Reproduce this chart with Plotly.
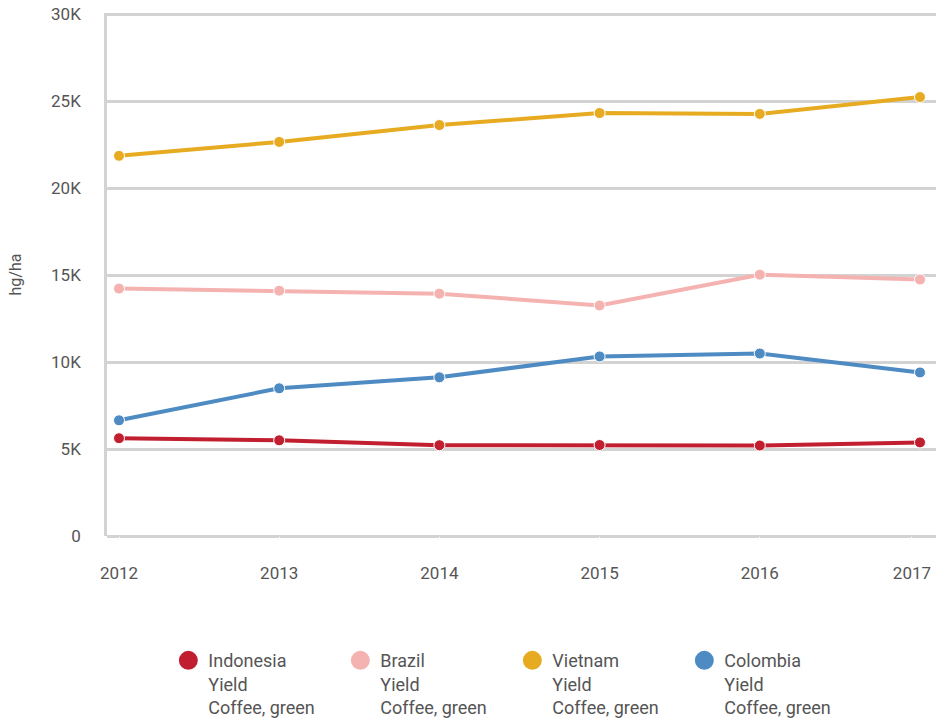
import plotly.graph_objects as go

years = [2012, 2013, 2014, 2015, 2016, 2017]
year_labels = ["2012", "2013", "2014", "2015", "2016", "2017"]
# tick label spots; the last one sits a little left so it stays inside the page
year_label_pos = [2012, 2013, 2014, 2015, 2016, 2016.95]

indonesia = [5620, 5500, 5220, 5230, 5200, 5380]
brazil = [14220, 14100, 13930, 13250, 15020, 14740]
vietnam = [21850, 22650, 23620, 24310, 24260, 25230]
colombia = [6650, 8490, 9120, 10320, 10490, 9400]

ytick_vals = [0, 5000, 10000, 15000, 20000, 25000, 30000]
ytick_text = ["0", "5K", "10K", "15K", "20K", "25K", "30K"]

series = [
    ("Indonesia", indonesia, "#c11f30"),
    ("Brazil", brazil, "#f4b3b0"),
    ("Vietnam", vietnam, "#e7ab22"),
    ("Colombia", colombia, "#4e8bc3"),
]

FONT = "Roboto, DejaVu Sans, sans-serif"
GRID = "#d3d3d3"
TEXT = "#555555"

fig = go.Figure()
for name, vals, color in series:
    fig.add_trace(go.Scatter(
        x=years, y=vals, mode="lines+markers", name=name,
        line=dict(color=color, width=4),
        marker=dict(size=11, color=color, line=dict(color="white", width=1)),
        showlegend=False,
    ))

# legend-only entries (circles, no line)
for name, vals, color in series:
    fig.add_trace(go.Scatter(
        x=[None], y=[None], mode="markers",
        name=f"{name}<br>Yield<br>Coffee, green",
        marker=dict(size=16, color=color, line=dict(color=color, width=3)),
    ))

fig.update_layout(
    width=936, height=718,
    paper_bgcolor="white", plot_bgcolor="white",
    font=dict(family=FONT, size=16, color=TEXT),
    margin=dict(l=107, r=0, t=13, b=182, autoexpand=False),
    xaxis=dict(
        range=[2011.925, 2017.1], tickvals=year_label_pos, ticktext=year_labels,
        showgrid=False, zeroline=False, showline=False,
        tickfont=dict(size=17, color=TEXT), ticklabeloverflow="allow",
        ticks="outside", tickcolor="white", ticklen=22,
    ),
    yaxis=dict(
        range=[0, 30060], tickvals=ytick_vals, ticktext=ytick_text,
        showgrid=True, gridcolor=GRID, gridwidth=2.5,
        zeroline=True, zerolinecolor=GRID, zerolinewidth=2.5,
        showline=True, linecolor=GRID, linewidth=2.5,
        ticks="outside", tickcolor="white", ticklen=20,
        tickfont=dict(size=17, color=TEXT), ticklabeloverflow="allow",
        title=dict(text="hg/ha", font=dict(size=16, color=TEXT), standoff=26),
    ),
    legend=dict(
        orientation="h", x=0.074, y=-0.203, xanchor="left", yanchor="top",
        valign="top", entrywidth=127, entrywidthmode="pixels",
        font=dict(size=18, color=TEXT), itemsizing="trace",
        tracegroupgap=0,
    ),
)

# drop the default body margin so the figure fills the window exactly
fig.write_html(
    "out.html",
    config={"displayModeBar": False},
    post_script="document.body.style.margin='0';",
)
